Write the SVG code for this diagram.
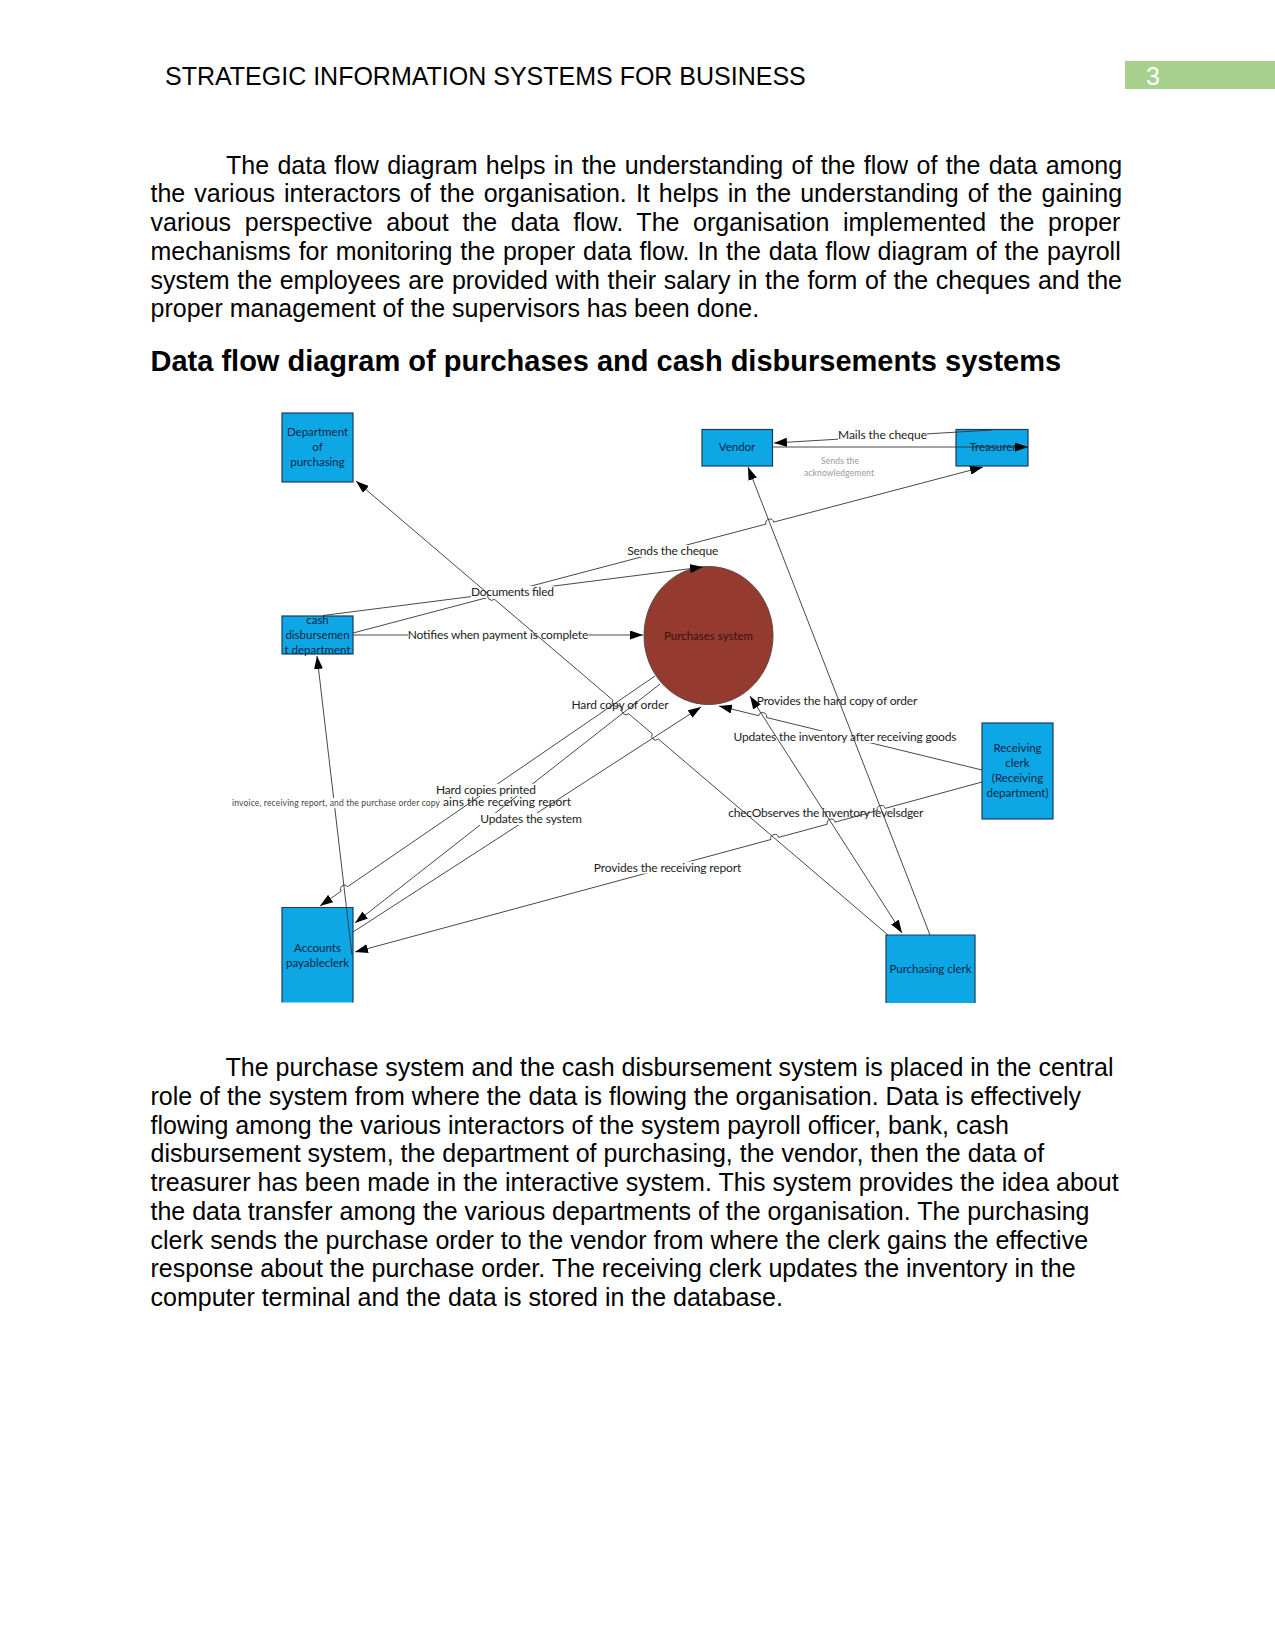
<svg xmlns="http://www.w3.org/2000/svg" width="1275" height="1651" viewBox="0 0 1275 1651">
<style>
.body{font-family:"Liberation Sans",Arial,sans-serif;font-size:25px;fill:#000}
.h2{font-family:"Liberation Sans",Arial,sans-serif;font-size:29px;font-weight:bold;fill:#000}
.box{fill:#0ea7e6;stroke:#1c3a5e;stroke-width:1.2}
.boxf{fill:#0ea7e6}
.edge{fill:none;stroke:#1c3a5e;stroke-width:1.2}
.nt{font-family:Lato,"Liberation Sans",sans-serif;font-size:11.5px;fill:#0b2545;text-anchor:middle}
.ln{fill:none;stroke:#333;stroke-width:0.9}
.ar{marker-end:url(#ah)}
.lb{font-family:Lato,"Liberation Sans",sans-serif;font-size:12px;fill:#222}
.lbm{text-anchor:middle}
.bg{fill:#fff}
.sm{font-family:Lato,"Liberation Sans",sans-serif;font-size:8.5px}
</style>
<defs>
<marker id="ah" viewBox="0 0 13 9" refX="13" refY="4.5" markerWidth="13" markerHeight="9" markerUnits="userSpaceOnUse" orient="auto-start-reverse"><path d="M0,0 L13,4.5 L0,9 z" fill="#000"/></marker>
</defs>
<rect width="1275" height="1651" fill="#fff"/>

<g id="header">
<text class="body" x="165" y="85">STRATEGIC INFORMATION SYSTEMS FOR BUSINESS</text>
<rect x="1125" y="61" width="150" height="28" fill="#a8d08d"/>
<text class="body" x="1146" y="85" style="fill:#fff">3</text>
</g>

<g id="para1">
<text class="body" x="226" y="173.5" word-spacing="1.37">The data flow diagram helps in the understanding of the flow of the data among</text>
<text class="body" x="150.5" y="202.25" word-spacing="2.15">the various interactors of the organisation. It helps in the understanding of the gaining</text>
<text class="body" x="150.5" y="231" word-spacing="6.7">various perspective about the data flow. The organisation implemented the proper</text>
<text class="body" x="150.5" y="259.75" word-spacing="0.91">mechanisms for monitoring the proper data flow. In the data flow diagram of the payroll</text>
<text class="body" x="150.5" y="288.5" word-spacing="0.66">system the employees are provided with their salary in the form of the cheques and the</text>
<text class="body" x="150.5" y="317.25">proper management of the supervisors has been done.</text>
</g>

<text id="heading" class="h2" x="150.5" y="370.5">Data flow diagram of purchases and cash disbursements systems</text>

<g id="node-dept">
<rect class="box" x="282" y="413" width="71" height="69"/>
<text class="nt" x="317.5" y="435.5">Department</text>
<text class="nt" x="317.5" y="450.5">of</text>
<text class="nt" x="317.5" y="465.5">purchasing</text>
</g>
<g id="node-vendor">
<rect class="box" x="702" y="429.5" width="70.5" height="36.5"/>
<text class="nt" x="737" y="451">Vendor</text>
</g>
<g id="node-treasurer">
<rect class="box" x="956" y="429.5" width="72" height="36.5"/>
<text class="nt" x="993" y="451">Treasurer</text>
</g>
<g id="node-cash">
<rect class="box" x="282" y="616" width="71" height="38"/>
<text class="nt" x="317.5" y="624">cash</text>
<text class="nt" x="317.5" y="638.5">disbursemen</text>
<text class="nt" x="317.5" y="653.5">t department</text>
</g>
<g id="node-purchases">
<ellipse cx="708.5" cy="635.5" rx="64.5" ry="69" fill="#943a2f" stroke="#5a4a48" stroke-width="1"/>
<text class="nt" x="708.5" y="639.5" style="fill:#3a120c">Purchases system</text>
</g>
<g id="node-receiving">
<rect class="box" x="982" y="723" width="71" height="96"/>
<text class="nt" x="1017.5" y="751.5">Receiving</text>
<text class="nt" x="1017.5" y="766.5">clerk</text>
<text class="nt" x="1017.5" y="782">(Receiving</text>
<text class="nt" x="1017.5" y="797">department)</text>
</g>
<g id="node-accounts">
<rect class="boxf" x="282" y="907.5" width="71" height="95"/>
<path class="edge" d="M282,1002.5 V907.5 H353 V1002.5"/>
<text class="nt" x="317.5" y="952">Accounts</text>
<text class="nt" x="317.5" y="967">payableclerk</text>
</g>
<g id="node-purchasing-clerk">
<rect class="boxf" x="886" y="935" width="89" height="68"/>
<path class="edge" d="M886,1003 V935 H975 V1003"/>
<text class="nt" x="930.5" y="973">Purchasing clerk</text>
</g>

<g id="connectors">
<g>
<path class="ln ar" d="M772,447 L1028,447"/>
<text class="lb sm lbm" x="840" y="464" style="fill:#999" textLength="38" lengthAdjust="spacing">Sends the</text>
<text class="lb sm lbm" x="839" y="476" style="fill:#999" textLength="70" lengthAdjust="spacing">acknowledgement</text>
</g>
<g>
<path class="ln ar" d="M992,430 L774,443"/>
<rect class="bg" x="838" y="428" width="89" height="12"/>
<text class="lb lbm" x="882.5" y="439" textLength="89" lengthAdjust="spacing">Mails the cheque</text>
</g>
<g>
<path class="ln ar" d="M353,633 L765.9,524.1 A4,4 0 0 1 773.7,522.1 L983,467"/>
<rect class="bg" x="627" y="545" width="91" height="12"/>
<text class="lb lbm" x="672.8" y="555" textLength="91" lengthAdjust="spacing">Sends the cheque</text>
</g>
<g>
<path class="ln ar" d="M323,615.5 L703,567"/>
<rect class="bg" x="471" y="586" width="83" height="12"/>
<text class="lb lbm" x="512.5" y="596" textLength="83" lengthAdjust="spacing">Documents filed</text>
</g>
<g>
<path class="ln ar" d="M353,635 L643,635"/>
<rect class="bg" x="408" y="629" width="180.6" height="12"/>
<text class="lb lbm" x="498" y="639" textLength="180.6" lengthAdjust="spacing">Notifies when payment is complete</text>
</g>
<g>
<path class="ln ar" d="M982,770 L766.5,717.5 A4,4 0 0 0 758.7,715.7 L719,706"/>
<rect class="bg" x="733" y="731" width="223" height="12"/>
<text class="lb lbm" x="845" y="741" textLength="223" lengthAdjust="spacing">Updates the inventory after receiving goods</text>
</g>
<g>
<path class="ln" d="M750,696 L902,933" stroke-width="1.8" marker-start="url(#ah)" marker-end="url(#ah)"/>
<text class="lb" x="756.7" y="704.5" textLength="160.7" lengthAdjust="spacing">Provides the hard copy of order</text>
<text class="lb" x="728.3" y="817.3" textLength="195" lengthAdjust="spacing">checObserves the inventory levelsdger</text>
</g>
<g>
<path class="ln ar" d="M930,935 L748,467"/>
</g>
<g>
<path class="ln ar" d="M660,684 L355,923"/>
<text class="lb" x="443" y="805.7" textLength="128" lengthAdjust="spacing">ains the receiving report</text>
</g>
<g>
<path class="ln ar" d="M655,676 L347.6,886.7 A4,4 0 0 0 341,891.2 L320,906"/>
<rect class="bg" x="436" y="784" width="100" height="12"/>
<text class="lb lbm" x="486" y="794" textLength="100" lengthAdjust="spacing">Hard copies printed</text>
</g>
<g>
<path class="ln ar" d="M353,932 L701,707"/>
<rect class="bg" x="480" y="813" width="102" height="12"/>
<text class="lb lbm" x="531" y="823" textLength="101.7" lengthAdjust="spacing">Updates the system</text>
</g>
<g>
<path class="ln ar" d="M982,782 L885.1,808.4 A4,4 0 0 0 877.3,810.6 L835.1,822.1 A4,4 0 0 0 827.3,824.2 L778.7,837.4 A4,4 0 0 0 770.9,839.5 L355,952"/>
<rect class="bg" x="593.5" y="861.5" width="148" height="12"/>
<text class="lb lbm" x="667.5" y="871.5" textLength="147.5" lengthAdjust="spacing">Provides the receiving report</text>
</g>
<g>
<path class="ln ar" d="M888,935 L658.3,739 A4,4 0 0 1 652.3,733.8 L628.6,713.7 A4,4 0 0 1 622.6,708.5 L618.9,705.4 A4,4 0 0 1 612.9,700.2 L494.4,599.2 A4,4 0 0 1 488.4,594 L356,481"/>
<text class="lb lbm" x="620" y="708.5" textLength="97" lengthAdjust="spacing">Hard copy of order</text>
</g>
<g>
<path class="ln ar" d="M352,955 L317,656"/>
<rect class="bg" x="231.5" y="798" width="208.5" height="10"/>
<text class="lb sm lbm" x="336" y="806" style="fill:#444" textLength="208" lengthAdjust="spacing">invoice, receiving report, and the purchase order copy</text>
</g>
</g>

<g id="para2">
<text class="body" x="225.5" y="1076">The purchase system and the cash disbursement system is placed in the central</text>
<text class="body" x="150.5" y="1104.75">role of the system from where the data is flowing the organisation. Data is effectively</text>
<text class="body" x="150.5" y="1133.5">flowing among the various interactors of the system payroll officer, bank, cash</text>
<text class="body" x="150.5" y="1162.25">disbursement system, the department of purchasing, the vendor, then the data of</text>
<text class="body" x="150.5" y="1191">treasurer has been made in the interactive system. This system provides the idea about</text>
<text class="body" x="150.5" y="1219.75">the data transfer among the various departments of the organisation. The purchasing</text>
<text class="body" x="150.5" y="1248.5">clerk sends the purchase order to the vendor from where the clerk gains the effective</text>
<text class="body" x="150.5" y="1277.25">response about the purchase order. The receiving clerk updates the inventory in the</text>
<text class="body" x="150.5" y="1306">computer terminal and the data is stored in the database.</text>
</g>
</svg>
